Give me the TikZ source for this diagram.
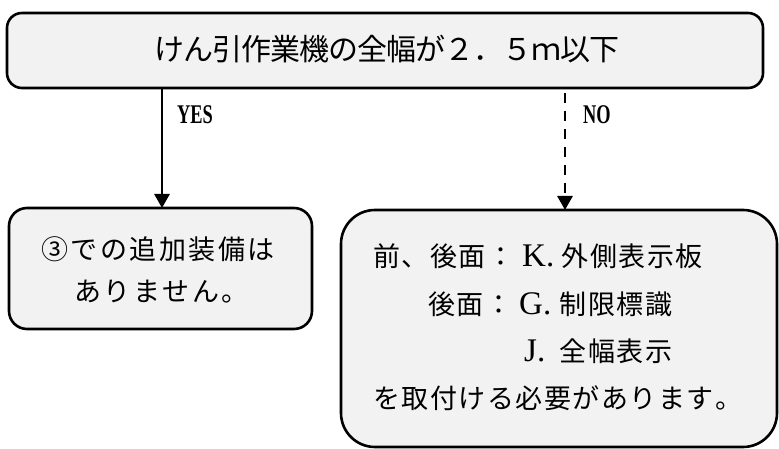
\documentclass[tikz,border=0pt]{standalone}
\usepackage{fontspec}
\setmainfont{Liberation Serif}
\newfontfamily\cjk{Noto Sans CJK JP}
\newfontfamily\latinf{Liberation Serif}
\usetikzlibrary{arrows.meta}
\definecolor{boxgray}{RGB}{242,242,242}
\newdimen\jgridw
\def\jgrid#1{\jgridaux#1\relax}
\def\jgridaux#1{\ifx\relax#1\else\hbox to\jgridw{#1\hss}\expandafter\jgridaux\fi}
\newcommand\latpart[2]{\hbox to 46pt{\hskip#1{\latinf\fontsize{33}{34}\selectfont #2}\hss}}
\begin{document}
\begin{tikzpicture}[x=1pt,y=-1pt,
  box/.style={draw=black, line width=2.6pt, fill=boxgray, inner sep=0pt, outer sep=0pt},
  txt/.style={inner sep=0pt, anchor=west, font=\cjk\fontsize{27}{30}\selectfont},
  lbl/.style={inner sep=0pt, anchor=west, font=\latinf\bfseries\fontsize{27}{28}\selectfont},
  arr/.style={line width=2.8pt, -{Triangle[width=15pt,length=14pt]}}]
\useasboundingbox (0,0) rectangle (779,449);

% boxes
\node[box, rounded corners=15pt, minimum width=756pt, minimum height=75pt] (top) at (385,50.5) {};
\node[box, rounded corners=18pt, minimum width=303pt, minimum height=121pt] (yesbox) at (160.5,268.5) {};
\node[box, rounded corners=34pt, minimum width=436pt, minimum height=237pt] (nobox) at (559,328.5) {};

% texts
\node[txt, anchor=center, font=\cjk\fontsize{30}{32}\selectfont] (toptext) at (386,49.5)
  {\jgridw=29pt\jgrid{けん引作業機の全幅が２．５ｍ以下}};

\node[txt] (y1) at (41,249.5) {\jgridw=29.5pt\jgrid{③での追加装備は}};
\node[txt] (y2) at (74,292) {\jgridw=29.5pt\jgrid{ありません。}};

\node[txt] (n1) at (373,256.5) {\jgridw=28.5pt\jgrid{前、後面：}\latpart{6.5pt}{K.}\jgrid{外側表示板}};
\node[txt] (n2) at (428,304) {\jgridw=28.5pt\jgrid{後面：}\latpart{5.5pt}{G.}\jgrid{制限標識}};
\node[txt] (n3) at (513.5,351) {\jgridw=28.5pt\latpart{10.5pt}{J.}\jgrid{全幅表示}};
\node[txt] (n4) at (373,398) {\jgridw=28.5pt\jgrid{を取付ける必要があります。}};

% connectors
\draw[arr] ([xshift=1.5pt]top.south -| yesbox.north) -- ([xshift=1.5pt]yesbox.north);
\draw[arr, dash pattern=on 10pt off 8pt, dash phase=-5pt] ([xshift=6pt]top.south -| nobox.north) -- ([xshift=6pt]nobox.north);

\node[lbl] (yes) at (177,114.5) {\scalebox{0.68}[1]{YES}};
\node[lbl] (no) at (583,114.5) {\scalebox{0.68}[1]{NO}};
\end{tikzpicture}
\end{document}
